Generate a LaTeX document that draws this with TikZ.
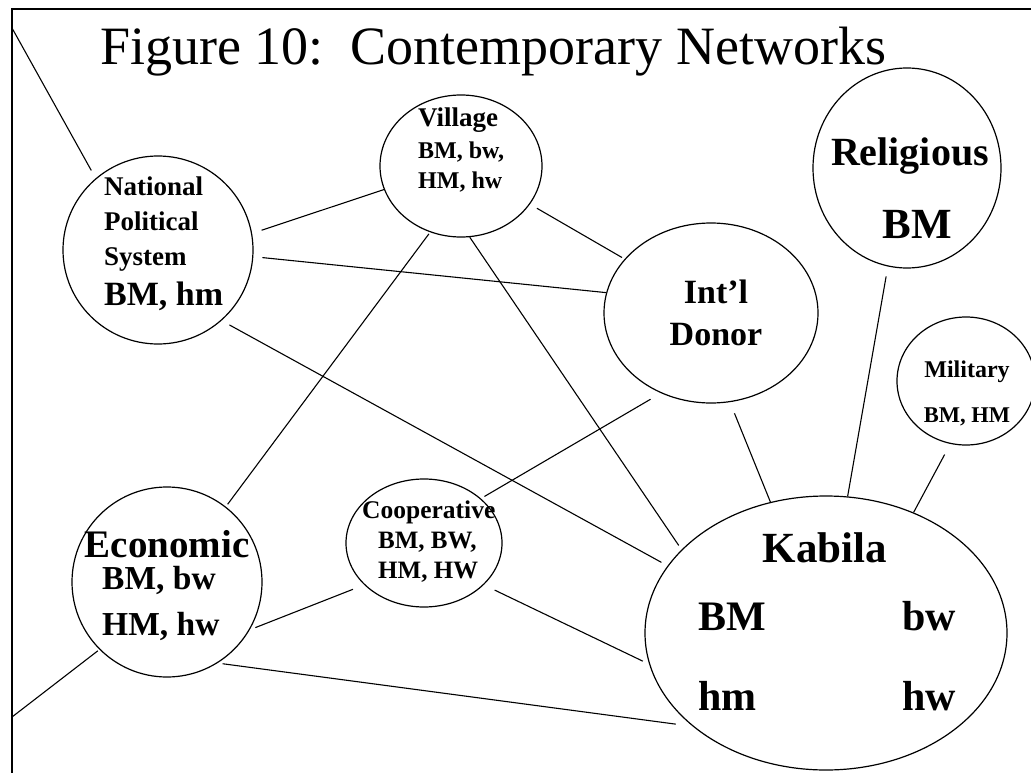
\documentclass[tikz,border=0pt]{standalone}
\usepackage{fontspec}
\setmainfont{Liberation Serif}
\usetikzlibrary{shapes.geometric}
\newcommand\fsz[1]{\fontsize{#1}{#1}\selectfont}
\begin{document}
\begin{tikzpicture}[x=1pt,y=-1pt,
  grp/.style={draw, ellipse, inner sep=0pt, line width=1.2pt},
  conn/.style={line width=1.1pt},
  lbl/.style={inner sep=0pt}]
\useasboundingbox (0,0) rectangle (1031,773);
\fill[white] (0,0) rectangle (1031,773);
% frame
\coordinate (fbot) at (12,773);
\coordinate (fcorner) at (12,9);
\coordinate (fright) at (1031,9);
\draw[line width=1.5pt] (fbot) -- (fcorner) -- (fright);
\coordinate (fA) at (12,28);
\coordinate (fB) at (12,717);
% title
\node[lbl, anchor=base west, font=\fsz{54}] (title) at (100,65) {Figure 10:\ \ Contemporary Networks};
% groups
\node[grp, minimum width=190pt, minimum height=188pt] (nat) at (158,250) {};
\node[grp, minimum width=162pt, minimum height=142pt] (vil) at (461,166) {};
\node[grp, minimum width=188pt, minimum height=200pt] (rel) at (907,168) {};
\node[grp, minimum width=214pt, minimum height=180pt] (don) at (711,313) {};
\node[grp, minimum width=138pt, minimum height=128pt] (mil) at (966,381) {};
\node[grp, minimum width=190pt, minimum height=190pt] (eco) at (167,582) {};
\node[grp, minimum width=156pt, minimum height=128pt] (coo) at (424,543) {};
\node[grp, minimum width=362pt, minimum height=274pt] (kab) at (826,633) {};
% labels
\node[lbl, anchor=base west, font=\bfseries\fsz{27}] (natA) at (104,196) {National};
\node[lbl, anchor=base west, font=\bfseries\fsz{27}] (natB) at (104,230) {Political};
\node[lbl, anchor=base west, font=\bfseries\fsz{27}] (natC) at (104,265) {System};
\node[lbl, anchor=base west, font=\bfseries\fsz{34}] (natD) at (104,305) {BM, hm};
\node[lbl, anchor=base west, font=\bfseries\fsz{27}] (vilA) at (418,127) {Village};
\node[lbl, anchor=base west, font=\bfseries\fsz{24}] (vilB) at (418,158) {BM, bw,};
\node[lbl, anchor=base west, font=\bfseries\fsz{24}] (vilC) at (418,188) {HM, hw};
\node[lbl, anchor=base, font=\bfseries\fsz{40}] (relA) at (910,166) {Religious};
\node[lbl, anchor=base, font=\bfseries\fsz{43}] (relB) at (917,238) {BM};
\node[lbl, anchor=base, font=\bfseries\fsz{34}] (donA) at (716,303) {Int’l};
\node[lbl, anchor=base, font=\bfseries\fsz{34}] (donB) at (716,345) {Donor};
\node[lbl, anchor=base, font=\bfseries\fsz{24}] (milA) at (967,377) {Military};
\node[lbl, anchor=base, font=\bfseries\fsz{22.5}] (milB) at (967,422) {BM, HM};
\node[lbl, anchor=base, font=\bfseries\fsz{39}] (ecoA) at (167,557) {Economic};
\node[lbl, anchor=base west, font=\bfseries\fsz{33.5}] (ecoB) at (102,589) {BM, bw};
\node[lbl, anchor=base west, font=\bfseries\fsz{33.5}] (ecoC) at (102,635) {HM, hw};
\node[lbl, anchor=base west, font=\bfseries\fsz{25.5}] (cooA) at (362,518) {Cooperative};
\node[lbl, anchor=base west, font=\bfseries\fsz{25}] (cooB) at (378,548) {BM, BW,};
\node[lbl, anchor=base west, font=\bfseries\fsz{25}] (cooC) at (378,578) {HM, HW};
\node[lbl, anchor=base, font=\bfseries\fsz{43}] (kabA) at (825,562) {Kabila};
\node[lbl, anchor=base west, font=\bfseries\fsz{42}] (kabB) at (698,630) {BM};
\node[lbl, anchor=base west, font=\bfseries\fsz{42}] (kabC) at (902,630) {bw};
\node[lbl, anchor=base west, font=\bfseries\fsz{42}] (kabD) at (698,710) {hm};
\node[lbl, anchor=base west, font=\bfseries\fsz{42}] (kabE) at (902,710) {hw};
% connectors
\draw[conn, shorten >=9pt] (fA) -- (nat.131);
\draw[conn, shorten <=10pt] (nat.10) -- (vil.-163);
\draw[conn, shorten <=9pt] (nat.-4) -- (don.169);
\draw[conn, shorten <=9pt, shorten >=7pt] (nat.-48) -- (kab.157);
\draw[conn, shorten <=8pt, shorten >=3pt] (vil.-29) -- (don.148);
\draw[conn, shorten <=2pt, shorten >=3pt] (vil.-115) -- (eco.52);
\draw[conn, shorten >=5pt] (vil.-83) -- (kab.150);
\draw[conn, shorten <=12pt, shorten >=4pt] (don.-122) -- (coo.38);
\draw[conn, shorten <=12pt] (don.-78) -- (kab.113);
\draw[conn, shorten <=10pt] (rel.-101) -- (kab.81);
\draw[conn, shorten <=12pt] (mil.-104) -- (kab.54);
\draw[conn, shorten <=6pt, shorten >=12pt] (eco.-30) -- (coo.-145);
\draw[conn, shorten <=12pt, shorten >=7pt] (coo.-35) -- (kab.-170);
\draw[conn, shorten <=5pt, shorten >=17pt] (eco.-58) -- (kab.-145);
\draw[conn, shorten <=2pt] (eco.-135) -- (fB);
\end{tikzpicture}
\end{document}
